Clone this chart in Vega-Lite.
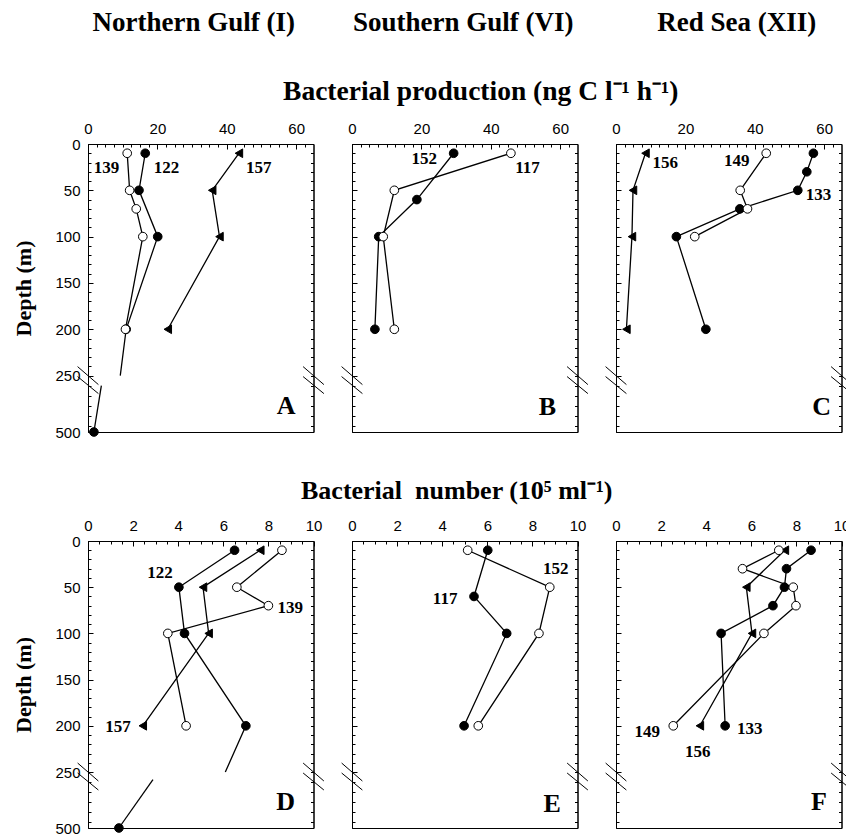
{
  "$schema": "https://vega.github.io/schema/vega-lite/v6.json",
  "background": "white",
  "padding": {"left": 12, "top": 8, "right": 0, "bottom": 0},
  "config": {
    "view": {"stroke": "black", "strokeWidth": 1},
    "axis": {"grid": false, "labelFont": "Liberation Sans", "labelFontSize": 15, "labelColor": "black", "tickColor": "black", "domainColor": "black", "tickWidth": 1, "domainWidth": 1, "labelFlush": false, "labelOverlap": false, "labelBound": false},
    "title": {"font": "Liberation Serif", "fontWeight": "bold", "fontSize": 26, "color": "black", "anchor": "middle", "frame": "group", "offset": 14},
    "text": {"font": "Liberation Serif", "fontWeight": "bold", "color": "black"}
  },
  "datasets": {
    "profiles": [
      {"panel":"A","station":"157","seg":1,"depth":10,"value":43.5,"kind":"sample"},
      {"panel":"A","station":"157","seg":1,"depth":50,"value":35.8,"kind":"sample"},
      {"panel":"A","station":"157","seg":1,"depth":100,"value":37.9,"kind":"sample"},
      {"panel":"A","station":"157","seg":1,"depth":200,"value":23.0,"kind":"sample"},
      {"panel":"A","station":"122","seg":1,"depth":10,"value":16.5,"kind":"sample"},
      {"panel":"A","station":"122","seg":1,"depth":50,"value":14.7,"kind":"sample"},
      {"panel":"A","station":"122","seg":1,"depth":100,"value":20.1,"kind":"sample"},
      {"panel":"A","station":"122","seg":1,"depth":200,"value":11.0,"kind":"sample"},
      {"panel":"A","station":"122","seg":1,"depth":250,"value":9.3,"kind":"break"},
      {"panel":"A","station":"122","seg":2,"depth":294,"value":3.85,"kind":"break"},
      {"panel":"A","station":"122","seg":2,"depth":500,"value":1.7,"kind":"sample"},
      {"panel":"A","station":"139","seg":1,"depth":10,"value":11.3,"kind":"sample"},
      {"panel":"A","station":"139","seg":1,"depth":50,"value":12.0,"kind":"sample"},
      {"panel":"A","station":"139","seg":1,"depth":70,"value":13.9,"kind":"sample"},
      {"panel":"A","station":"139","seg":1,"depth":100,"value":15.8,"kind":"sample"},
      {"panel":"A","station":"139","seg":1,"depth":200,"value":10.8,"kind":"sample"},
      {"panel":"B","station":"152","seg":1,"depth":10,"value":29.3,"kind":"sample"},
      {"panel":"B","station":"152","seg":1,"depth":60,"value":18.7,"kind":"sample"},
      {"panel":"B","station":"152","seg":1,"depth":100,"value":7.7,"kind":"sample"},
      {"panel":"B","station":"152","seg":1,"depth":200,"value":6.6,"kind":"sample"},
      {"panel":"B","station":"117","seg":1,"depth":10,"value":45.8,"kind":"sample"},
      {"panel":"B","station":"117","seg":1,"depth":50,"value":12.2,"kind":"sample"},
      {"panel":"B","station":"117","seg":1,"depth":100,"value":9.0,"kind":"sample"},
      {"panel":"B","station":"117","seg":1,"depth":200,"value":12.2,"kind":"sample"},
      {"panel":"C","station":"156","seg":1,"depth":10,"value":8.5,"kind":"sample"},
      {"panel":"C","station":"156","seg":1,"depth":50,"value":4.9,"kind":"sample"},
      {"panel":"C","station":"156","seg":1,"depth":100,"value":4.6,"kind":"sample"},
      {"panel":"C","station":"156","seg":1,"depth":200,"value":3.0,"kind":"sample"},
      {"panel":"C","station":"133","seg":1,"depth":10,"value":56.9,"kind":"sample"},
      {"panel":"C","station":"133","seg":1,"depth":30,"value":55.0,"kind":"sample"},
      {"panel":"C","station":"133","seg":1,"depth":50,"value":52.4,"kind":"sample"},
      {"panel":"C","station":"133","seg":1,"depth":70,"value":35.7,"kind":"sample"},
      {"panel":"C","station":"133","seg":1,"depth":100,"value":17.4,"kind":"sample"},
      {"panel":"C","station":"133","seg":1,"depth":200,"value":25.9,"kind":"sample"},
      {"panel":"C","station":"149","seg":1,"depth":10,"value":43.3,"kind":"sample"},
      {"panel":"C","station":"149","seg":1,"depth":50,"value":35.8,"kind":"sample"},
      {"panel":"C","station":"149","seg":1,"depth":70,"value":37.9,"kind":"sample"},
      {"panel":"C","station":"149","seg":1,"depth":100,"value":22.7,"kind":"sample"},
      {"panel":"D","station":"157","seg":1,"depth":10,"value":7.64,"kind":"sample"},
      {"panel":"D","station":"157","seg":1,"depth":50,"value":5.1,"kind":"sample"},
      {"panel":"D","station":"157","seg":1,"depth":100,"value":5.35,"kind":"sample"},
      {"panel":"D","station":"157","seg":1,"depth":200,"value":2.43,"kind":"sample"},
      {"panel":"D","station":"122","seg":1,"depth":10,"value":6.5,"kind":"sample"},
      {"panel":"D","station":"122","seg":1,"depth":50,"value":4.03,"kind":"sample"},
      {"panel":"D","station":"122","seg":1,"depth":100,"value":4.28,"kind":"sample"},
      {"panel":"D","station":"122","seg":1,"depth":200,"value":7.0,"kind":"sample"},
      {"panel":"D","station":"122","seg":1,"depth":250,"value":6.09,"kind":"break"},
      {"panel":"D","station":"122","seg":2,"depth":284,"value":2.88,"kind":"break"},
      {"panel":"D","station":"122","seg":2,"depth":500,"value":1.37,"kind":"sample"},
      {"panel":"D","station":"139","seg":1,"depth":10,"value":8.6,"kind":"sample"},
      {"panel":"D","station":"139","seg":1,"depth":50,"value":6.6,"kind":"sample"},
      {"panel":"D","station":"139","seg":1,"depth":70,"value":8.0,"kind":"sample"},
      {"panel":"D","station":"139","seg":1,"depth":100,"value":3.54,"kind":"sample"},
      {"panel":"D","station":"139","seg":1,"depth":200,"value":4.35,"kind":"sample"},
      {"panel":"E","station":"117","seg":1,"depth":10,"value":6.02,"kind":"sample"},
      {"panel":"E","station":"117","seg":1,"depth":60,"value":5.41,"kind":"sample"},
      {"panel":"E","station":"117","seg":1,"depth":100,"value":6.86,"kind":"sample"},
      {"panel":"E","station":"117","seg":1,"depth":200,"value":4.97,"kind":"sample"},
      {"panel":"E","station":"152","seg":1,"depth":10,"value":5.13,"kind":"sample"},
      {"panel":"E","station":"152","seg":1,"depth":50,"value":8.77,"kind":"sample"},
      {"panel":"E","station":"152","seg":1,"depth":100,"value":8.29,"kind":"sample"},
      {"panel":"E","station":"152","seg":1,"depth":200,"value":5.6,"kind":"sample"},
      {"panel":"F","station":"156","seg":1,"depth":10,"value":7.49,"kind":"sample"},
      {"panel":"F","station":"156","seg":1,"depth":50,"value":5.78,"kind":"sample"},
      {"panel":"F","station":"156","seg":1,"depth":100,"value":6.03,"kind":"sample"},
      {"panel":"F","station":"156","seg":1,"depth":200,"value":3.72,"kind":"sample"},
      {"panel":"F","station":"133","seg":1,"depth":10,"value":8.65,"kind":"sample"},
      {"panel":"F","station":"133","seg":1,"depth":30,"value":7.56,"kind":"sample"},
      {"panel":"F","station":"133","seg":1,"depth":50,"value":7.47,"kind":"sample"},
      {"panel":"F","station":"133","seg":1,"depth":70,"value":6.96,"kind":"sample"},
      {"panel":"F","station":"133","seg":1,"depth":100,"value":4.66,"kind":"sample"},
      {"panel":"F","station":"133","seg":1,"depth":200,"value":4.84,"kind":"sample"},
      {"panel":"F","station":"149","seg":1,"depth":10,"value":7.22,"kind":"sample"},
      {"panel":"F","station":"149","seg":1,"depth":30,"value":5.61,"kind":"sample"},
      {"panel":"F","station":"149","seg":1,"depth":50,"value":7.86,"kind":"sample"},
      {"panel":"F","station":"149","seg":1,"depth":70,"value":7.98,"kind":"sample"},
      {"panel":"F","station":"149","seg":1,"depth":100,"value":6.56,"kind":"sample"},
      {"panel":"F","station":"149","seg":1,"depth":200,"value":2.54,"kind":"sample"}
    ],
    "labels": [
      {"panel":"A","station":"139","depth":25.6,"value":5.3},
      {"panel":"A","station":"122","depth":25.6,"value":22.6},
      {"panel":"A","station":"157","depth":25.6,"value":49.2},
      {"panel":"B","station":"152","depth":16.7,"value":20.8},
      {"panel":"B","station":"117","depth":25.6,"value":50.6},
      {"panel":"C","station":"156","depth":20,"value":14.2},
      {"panel":"C","station":"149","depth":18.5,"value":34.8},
      {"panel":"C","station":"133","depth":55,"value":58.4},
      {"panel":"D","station":"122","depth":34.8,"value":3.19},
      {"panel":"D","station":"139","depth":72,"value":8.97},
      {"panel":"D","station":"157","depth":200.9,"value":1.33},
      {"panel":"E","station":"152","depth":29.9,"value":9.04},
      {"panel":"E","station":"117","depth":63,"value":4.13},
      {"panel":"F","station":"149","depth":206.7,"value":1.39},
      {"panel":"F","station":"156","depth":228.8,"value":3.62},
      {"panel":"F","station":"133","depth":204,"value":5.93}
    ]
  },
  "spacing": 36,
  "resolve": {"scale": {"shape": "independent", "fill": "independent"}},
  "vconcat": [
    {
      "spacing": 38,
      "bounds": "flush",
      "title": {"text": "Bacterial production (ng C l⁻¹ h⁻¹)", "fontSize": 27.5, "frame": "bounds", "anchor": "middle", "offset": -97, "dx": 48},
      "resolve": {"scale": {"shape": "independent", "fill": "independent"}},
      "hconcat": [
        {
          "width": 225.5, "height": 288,
          "title": {"text": "Northern Gulf (I)", "fontSize": 27, "dx": -7, "offset": 84},
          "layer": [
            {"data": {"name": "profiles"}, "transform": [{"filter": "datum.panel === 'A'"}],
             "mark": {"type": "line", "color": "black", "strokeWidth": 1.3},
             "encoding": {
               "x": {"field": "value", "type": "quantitative", "scale": {"domain": [0,65], "nice": false, "zero": false}, "axis": {"orient": "top", "values": [0,20,40,60], "tickSize": -5, "labelPadding": 13, "title": null, "format": "d"}},
               "y": {"field": "depth", "type": "quantitative", "scale": {"domain": [0,250,500], "range": [0,231.6,288], "nice": false, "zero": false}, "axis": {"orient": "left", "values": [0,50,100,150,200,250,500], "tickSize": -5, "labelPadding": 13, "format": "d", "title": "Depth (m)", "titleFont": "Liberation Serif", "titleFontWeight": "bold", "titleFontSize": 22, "titlePadding": 19, "titleColor": "black"}},
               "detail": [{"field": "station", "type": "nominal"}, {"field": "seg", "type": "nominal"}],
               "order": {"field": "depth", "type": "quantitative"}
             }},
            {"data": {"name": "profiles"}, "transform": [{"filter": "datum.panel === 'A' && datum.kind === 'sample'"}],
             "mark": {"type": "point", "filled": true, "size": 75, "stroke": "black", "strokeWidth": 1, "opacity": 1},
             "encoding": {
               "x": {"field": "value", "type": "quantitative", "scale": {"domain": [0,65], "nice": false, "zero": false}, "axis": {"orient": "top", "values": [2.5,5,7.5,10,12.5,15,17.5,22.5,25,27.5,30,32.5,35,37.5,42.5,45,47.5,50,52.5,55,57.5,62.5], "tickSize": -3, "labels": false, "domain": false, "title": null}},
               "y": {"field": "depth", "type": "quantitative", "scale": {"domain": [0,250,500], "range": [0,231.6,288], "nice": false, "zero": false}, "axis": {"orient": "left", "values": [10,20,30,40,60,70,80,90,110,120,130,140,160,170,180,190,210,220,230,240,295,340,385,430,475], "tickSize": -3, "labels": false, "domain": false, "title": null}},
               "shape": {"field": "station", "type": "nominal", "scale": {"domain": ["122","139","157"], "range": ["circle","circle","triangle-left"]}, "legend": null},
               "fill": {"field": "station", "type": "nominal", "scale": {"domain": ["122","139","157"], "range": ["black","white","black"]}, "legend": null}
             }},
            {"data": {"name": "labels"}, "transform": [{"filter": "datum.panel === 'A'"}],
             "mark": {"type": "text", "font": "Liberation Serif", "fontWeight": "bold", "fontSize": 17, "align": "center", "baseline": "middle"},
             "encoding": {
               "x": {"field": "value", "type": "quantitative", "scale": {"domain": [0,65], "nice": false, "zero": false}, "axis": null},
               "y": {"field": "depth", "type": "quantitative", "scale": {"domain": [0,250,500], "range": [0,231.6,288], "nice": false, "zero": false}, "axis": {"orient": "right", "values": [10,20,30,40,50,60,70,80,90,100,110,120,130,140,150,160,170,180,190,200,210,220,230,240,250,295,340,385,430,475], "tickSize": -3, "labels": false, "domain": true, "title": null}},
               "text": {"field": "station", "type": "nominal"}
             }},
            {"data": {"values": [{}]}, "mark": {"type": "text", "text": "A", "font": "Liberation Serif", "fontWeight": "bold", "fontSize": 26, "align": "center", "baseline": "middle"},
             "encoding": {"x": {"datum": 57.1, "type": "quantitative", "axis": null}, "y": {"datum": 385, "type": "quantitative", "axis": null}}},
            {"data": {"values": [{}]}, "mark": {"type": "rule", "color": "black", "strokeWidth": 1},
             "encoding": {"x": {"datum": -3, "type": "quantitative", "axis": null}, "x2": {"datum": 3}, "y": {"datum": 240.3, "type": "quantitative", "axis": null}, "y2": {"datum": 289.9}}},
            {"data": {"values": [{}]}, "mark": {"type": "rule", "color": "black", "strokeWidth": 1},
             "encoding": {"x": {"datum": -3, "type": "quantitative", "axis": null}, "x2": {"datum": 3}, "y": {"datum": 254.4, "type": "quantitative", "axis": null}, "y2": {"datum": 329.8}}},
            {"data": {"values": [{}]}, "mark": {"type": "rule", "color": "black", "strokeWidth": 1},
             "encoding": {"x": {"datum": 62, "type": "quantitative", "axis": null}, "x2": {"datum": 68}, "y": {"datum": 240.3, "type": "quantitative", "axis": null}, "y2": {"datum": 289.9}}},
            {"data": {"values": [{}]}, "mark": {"type": "rule", "color": "black", "strokeWidth": 1},
             "encoding": {"x": {"datum": 62, "type": "quantitative", "axis": null}, "x2": {"datum": 68}, "y": {"datum": 254.4, "type": "quantitative", "axis": null}, "y2": {"datum": 329.8}}}
          ],
          "resolve": {"axis": {"x": "independent", "y": "independent"}}
        },
        {
          "width": 225.5, "height": 288,
          "title": {"text": "Southern Gulf (VI)", "fontSize": 27, "dx": -1.5, "offset": 84},
          "layer": [
            {"data": {"name": "profiles"}, "transform": [{"filter": "datum.panel === 'B'"}],
             "mark": {"type": "line", "color": "black", "strokeWidth": 1.3},
             "encoding": {
               "x": {"field": "value", "type": "quantitative", "scale": {"domain": [0,65], "nice": false, "zero": false}, "axis": {"orient": "top", "values": [0,20,40,60], "tickSize": -5, "labelPadding": 13, "title": null, "format": "d"}},
               "y": {"field": "depth", "type": "quantitative", "scale": {"domain": [0,250,500], "range": [0,231.6,288], "nice": false, "zero": false}, "axis": {"orient": "left", "values": [0,50,100,150,200,250,500], "tickSize": -5, "labels": false, "title": null}},
               "detail": [{"field": "station", "type": "nominal"}, {"field": "seg", "type": "nominal"}],
               "order": {"field": "depth", "type": "quantitative"}
             }},
            {"data": {"name": "profiles"}, "transform": [{"filter": "datum.panel === 'B' && datum.kind === 'sample'"}],
             "mark": {"type": "point", "filled": true, "size": 75, "stroke": "black", "strokeWidth": 1, "opacity": 1},
             "encoding": {
               "x": {"field": "value", "type": "quantitative", "scale": {"domain": [0,65], "nice": false, "zero": false}, "axis": {"orient": "top", "values": [2.5,5,7.5,10,12.5,15,17.5,22.5,25,27.5,30,32.5,35,37.5,42.5,45,47.5,50,52.5,55,57.5,62.5], "tickSize": -3, "labels": false, "domain": false, "title": null}},
               "y": {"field": "depth", "type": "quantitative", "scale": {"domain": [0,250,500], "range": [0,231.6,288], "nice": false, "zero": false}, "axis": {"orient": "left", "values": [10,20,30,40,60,70,80,90,110,120,130,140,160,170,180,190,210,220,230,240,295,340,385,430,475], "tickSize": -3, "labels": false, "domain": false, "title": null}},
               "shape": {"field": "station", "type": "nominal", "scale": {"domain": ["152","117"], "range": ["circle","circle"]}, "legend": null},
               "fill": {"field": "station", "type": "nominal", "scale": {"domain": ["152","117"], "range": ["black","white"]}, "legend": null}
             }},
            {"data": {"name": "labels"}, "transform": [{"filter": "datum.panel === 'B'"}],
             "mark": {"type": "text", "font": "Liberation Serif", "fontWeight": "bold", "fontSize": 17, "align": "center", "baseline": "middle"},
             "encoding": {
               "x": {"field": "value", "type": "quantitative", "scale": {"domain": [0,65], "nice": false, "zero": false}, "axis": null},
               "y": {"field": "depth", "type": "quantitative", "scale": {"domain": [0,250,500], "range": [0,231.6,288], "nice": false, "zero": false}, "axis": {"orient": "right", "values": [10,20,30,40,50,60,70,80,90,100,110,120,130,140,150,160,170,180,190,200,210,220,230,240,250,295,340,385,430,475], "tickSize": -3, "labels": false, "domain": true, "title": null}},
               "text": {"field": "station", "type": "nominal"}
             }},
            {"data": {"values": [{}]}, "mark": {"type": "text", "text": "B", "font": "Liberation Serif", "fontWeight": "bold", "fontSize": 26, "align": "center", "baseline": "middle"},
             "encoding": {"x": {"datum": 56.3, "type": "quantitative", "axis": null}, "y": {"datum": 388, "type": "quantitative", "axis": null}}},
            {"data": {"values": [{}]}, "mark": {"type": "rule", "color": "black", "strokeWidth": 1},
             "encoding": {"x": {"datum": -3, "type": "quantitative", "axis": null}, "x2": {"datum": 3}, "y": {"datum": 240.3, "type": "quantitative", "axis": null}, "y2": {"datum": 289.9}}},
            {"data": {"values": [{}]}, "mark": {"type": "rule", "color": "black", "strokeWidth": 1},
             "encoding": {"x": {"datum": -3, "type": "quantitative", "axis": null}, "x2": {"datum": 3}, "y": {"datum": 254.4, "type": "quantitative", "axis": null}, "y2": {"datum": 329.8}}},
            {"data": {"values": [{}]}, "mark": {"type": "rule", "color": "black", "strokeWidth": 1},
             "encoding": {"x": {"datum": 62, "type": "quantitative", "axis": null}, "x2": {"datum": 68}, "y": {"datum": 240.3, "type": "quantitative", "axis": null}, "y2": {"datum": 289.9}}},
            {"data": {"values": [{}]}, "mark": {"type": "rule", "color": "black", "strokeWidth": 1},
             "encoding": {"x": {"datum": 62, "type": "quantitative", "axis": null}, "x2": {"datum": 68}, "y": {"datum": 254.4, "type": "quantitative", "axis": null}, "y2": {"datum": 329.8}}}
          ],
          "resolve": {"axis": {"x": "independent", "y": "independent"}}
        },
        {
          "width": 225.5, "height": 288,
          "title": {"text": "Red Sea (XII)", "fontSize": 27, "dx": 8, "offset": 84},
          "layer": [
            {"data": {"name": "profiles"}, "transform": [{"filter": "datum.panel === 'C'"}],
             "mark": {"type": "line", "color": "black", "strokeWidth": 1.3},
             "encoding": {
               "x": {"field": "value", "type": "quantitative", "scale": {"domain": [0,65], "nice": false, "zero": false}, "axis": {"orient": "top", "values": [0,20,40,60], "tickSize": -5, "labelPadding": 13, "title": null, "format": "d"}},
               "y": {"field": "depth", "type": "quantitative", "scale": {"domain": [0,250,500], "range": [0,231.6,288], "nice": false, "zero": false}, "axis": {"orient": "left", "values": [0,50,100,150,200,250,500], "tickSize": -5, "labels": false, "title": null}},
               "detail": [{"field": "station", "type": "nominal"}, {"field": "seg", "type": "nominal"}],
               "order": {"field": "depth", "type": "quantitative"}
             }},
            {"data": {"name": "profiles"}, "transform": [{"filter": "datum.panel === 'C' && datum.kind === 'sample'"}],
             "mark": {"type": "point", "filled": true, "size": 75, "stroke": "black", "strokeWidth": 1, "opacity": 1},
             "encoding": {
               "x": {"field": "value", "type": "quantitative", "scale": {"domain": [0,65], "nice": false, "zero": false}, "axis": {"orient": "top", "values": [2.5,5,7.5,10,12.5,15,17.5,22.5,25,27.5,30,32.5,35,37.5,42.5,45,47.5,50,52.5,55,57.5,62.5], "tickSize": -3, "labels": false, "domain": false, "title": null}},
               "y": {"field": "depth", "type": "quantitative", "scale": {"domain": [0,250,500], "range": [0,231.6,288], "nice": false, "zero": false}, "axis": {"orient": "left", "values": [10,20,30,40,60,70,80,90,110,120,130,140,160,170,180,190,210,220,230,240,295,340,385,430,475], "tickSize": -3, "labels": false, "domain": false, "title": null}},
               "shape": {"field": "station", "type": "nominal", "scale": {"domain": ["133","149","156"], "range": ["circle","circle","triangle-left"]}, "legend": null},
               "fill": {"field": "station", "type": "nominal", "scale": {"domain": ["133","149","156"], "range": ["black","white","black"]}, "legend": null}
             }},
            {"data": {"name": "labels"}, "transform": [{"filter": "datum.panel === 'C'"}],
             "mark": {"type": "text", "font": "Liberation Serif", "fontWeight": "bold", "fontSize": 17, "align": "center", "baseline": "middle"},
             "encoding": {
               "x": {"field": "value", "type": "quantitative", "scale": {"domain": [0,65], "nice": false, "zero": false}, "axis": null},
               "y": {"field": "depth", "type": "quantitative", "scale": {"domain": [0,250,500], "range": [0,231.6,288], "nice": false, "zero": false}, "axis": {"orient": "right", "values": [10,20,30,40,50,60,70,80,90,100,110,120,130,140,150,160,170,180,190,200,210,220,230,240,250,295,340,385,430,475], "tickSize": -3, "labels": false, "domain": true, "title": null}},
               "text": {"field": "station", "type": "nominal"}
             }},
            {"data": {"values": [{}]}, "mark": {"type": "text", "text": "C", "font": "Liberation Serif", "fontWeight": "bold", "fontSize": 26, "align": "center", "baseline": "middle"},
             "encoding": {"x": {"datum": 59.3, "type": "quantitative", "axis": null}, "y": {"datum": 388, "type": "quantitative", "axis": null}}},
            {"data": {"values": [{}]}, "mark": {"type": "rule", "color": "black", "strokeWidth": 1},
             "encoding": {"x": {"datum": -3, "type": "quantitative", "axis": null}, "x2": {"datum": 3}, "y": {"datum": 240.3, "type": "quantitative", "axis": null}, "y2": {"datum": 289.9}}},
            {"data": {"values": [{}]}, "mark": {"type": "rule", "color": "black", "strokeWidth": 1},
             "encoding": {"x": {"datum": -3, "type": "quantitative", "axis": null}, "x2": {"datum": 3}, "y": {"datum": 254.4, "type": "quantitative", "axis": null}, "y2": {"datum": 329.8}}},
            {"data": {"values": [{}]}, "mark": {"type": "rule", "color": "black", "strokeWidth": 1},
             "encoding": {"x": {"datum": 62, "type": "quantitative", "axis": null}, "x2": {"datum": 68}, "y": {"datum": 240.3, "type": "quantitative", "axis": null}, "y2": {"datum": 289.9}}},
            {"data": {"values": [{}]}, "mark": {"type": "rule", "color": "black", "strokeWidth": 1},
             "encoding": {"x": {"datum": 62, "type": "quantitative", "axis": null}, "x2": {"datum": 68}, "y": {"datum": 254.4, "type": "quantitative", "axis": null}, "y2": {"datum": 329.8}}}
          ],
          "resolve": {"axis": {"x": "independent", "y": "independent"}}
        }
      ]
    },
    {
      "spacing": 38,
      "bounds": "flush",
      "resolve": {"scale": {"shape": "independent", "fill": "independent"}},
      "hconcat": [
        {
          "width": 225.5, "height": 287,
          "layer": [
            {"data": {"name": "profiles"}, "transform": [{"filter": "datum.panel === 'D'"}],
             "mark": {"type": "line", "color": "black", "strokeWidth": 1.3},
             "encoding": {
               "x": {"field": "value", "type": "quantitative", "scale": {"domain": [0,10], "nice": false, "zero": false}, "axis": {"orient": "top", "values": [0,2,4,6,8,10], "tickSize": -5, "labelPadding": 13, "title": null, "format": "d"}},
               "y": {"field": "depth", "type": "quantitative", "scale": {"domain": [0,250,500], "range": [0,231,287], "nice": false, "zero": false}, "axis": {"orient": "left", "values": [0,50,100,150,200,250,500], "tickSize": -5, "labelPadding": 13, "format": "d", "title": "Depth (m)", "titleFont": "Liberation Serif", "titleFontWeight": "bold", "titleFontSize": 22, "titlePadding": 19, "titleColor": "black"}},
               "detail": [{"field": "station", "type": "nominal"}, {"field": "seg", "type": "nominal"}],
               "order": {"field": "depth", "type": "quantitative"}
             }},
            {"data": {"name": "profiles"}, "transform": [{"filter": "datum.panel === 'D' && datum.kind === 'sample'"}],
             "mark": {"type": "point", "filled": true, "size": 75, "stroke": "black", "strokeWidth": 1, "opacity": 1},
             "encoding": {
               "x": {"field": "value", "type": "quantitative", "scale": {"domain": [0,10], "nice": false, "zero": false}, "axis": {"orient": "top", "values": [0.5,1,1.5,2.5,3,3.5,4.5,5,5.5,6.5,7,7.5,8.5,9,9.5], "tickSize": -3, "labels": false, "domain": false, "title": null}},
               "y": {"field": "depth", "type": "quantitative", "scale": {"domain": [0,250,500], "range": [0,231,287], "nice": false, "zero": false}, "axis": {"orient": "left", "values": [10,20,30,40,60,70,80,90,110,120,130,140,160,170,180,190,210,220,230,240,295,340,385,430,475], "tickSize": -3, "labels": false, "domain": false, "title": null}},
               "shape": {"field": "station", "type": "nominal", "scale": {"domain": ["122","139","157"], "range": ["circle","circle","triangle-left"]}, "legend": null},
               "fill": {"field": "station", "type": "nominal", "scale": {"domain": ["122","139","157"], "range": ["black","white","black"]}, "legend": null}
             }},
            {"data": {"name": "labels"}, "transform": [{"filter": "datum.panel === 'D'"}],
             "mark": {"type": "text", "font": "Liberation Serif", "fontWeight": "bold", "fontSize": 17, "align": "center", "baseline": "middle"},
             "encoding": {
               "x": {"field": "value", "type": "quantitative", "scale": {"domain": [0,10], "nice": false, "zero": false}, "axis": null},
               "y": {"field": "depth", "type": "quantitative", "scale": {"domain": [0,250,500], "range": [0,231,287], "nice": false, "zero": false}, "axis": {"orient": "right", "values": [10,20,30,40,50,60,70,80,90,100,110,120,130,140,150,160,170,180,190,200,210,220,230,240,250,295,340,385,430,475], "tickSize": -3, "labels": false, "domain": true, "title": null}},
               "text": {"field": "station", "type": "nominal"}
             }},
            {"data": {"values": [{}]}, "mark": {"type": "text", "text": "D", "font": "Liberation Serif", "fontWeight": "bold", "fontSize": 26, "align": "center", "baseline": "middle"},
             "encoding": {"x": {"datum": 8.77, "type": "quantitative", "axis": null}, "y": {"datum": 385, "type": "quantitative", "axis": null}}},
            {"data": {"values": [{}]}, "mark": {"type": "rule", "color": "black", "strokeWidth": 1},
             "encoding": {"x": {"datum": -0.46, "type": "quantitative", "axis": null}, "x2": {"datum": 0.46}, "y": {"datum": 240.3, "type": "quantitative", "axis": null}, "y2": {"datum": 290.2}}},
            {"data": {"values": [{}]}, "mark": {"type": "rule", "color": "black", "strokeWidth": 1},
             "encoding": {"x": {"datum": -0.46, "type": "quantitative", "axis": null}, "x2": {"datum": 0.46}, "y": {"datum": 254.5, "type": "quantitative", "axis": null}, "y2": {"datum": 330.4}}},
            {"data": {"values": [{}]}, "mark": {"type": "rule", "color": "black", "strokeWidth": 1},
             "encoding": {"x": {"datum": 9.54, "type": "quantitative", "axis": null}, "x2": {"datum": 10.46}, "y": {"datum": 240.3, "type": "quantitative", "axis": null}, "y2": {"datum": 290.2}}},
            {"data": {"values": [{}]}, "mark": {"type": "rule", "color": "black", "strokeWidth": 1},
             "encoding": {"x": {"datum": 9.54, "type": "quantitative", "axis": null}, "x2": {"datum": 10.46}, "y": {"datum": 254.5, "type": "quantitative", "axis": null}, "y2": {"datum": 330.4}}}
          ],
          "resolve": {"axis": {"x": "independent", "y": "independent"}}
        },
        {
          "width": 225.5, "height": 287,
          "title": {"text": "Bacterial\u00a0 number (10⁵ ml⁻¹)", "dx": -8},
          "layer": [
            {"data": {"name": "profiles"}, "transform": [{"filter": "datum.panel === 'E'"}],
             "mark": {"type": "line", "color": "black", "strokeWidth": 1.3},
             "encoding": {
               "x": {"field": "value", "type": "quantitative", "scale": {"domain": [0,10], "nice": false, "zero": false}, "axis": {"orient": "top", "values": [0,2,4,6,8,10], "tickSize": -5, "labelPadding": 13, "title": null, "format": "d"}},
               "y": {"field": "depth", "type": "quantitative", "scale": {"domain": [0,250,500], "range": [0,231,287], "nice": false, "zero": false}, "axis": {"orient": "left", "values": [0,50,100,150,200,250,500], "tickSize": -5, "labels": false, "title": null}},
               "detail": [{"field": "station", "type": "nominal"}, {"field": "seg", "type": "nominal"}],
               "order": {"field": "depth", "type": "quantitative"}
             }},
            {"data": {"name": "profiles"}, "transform": [{"filter": "datum.panel === 'E' && datum.kind === 'sample'"}],
             "mark": {"type": "point", "filled": true, "size": 75, "stroke": "black", "strokeWidth": 1, "opacity": 1},
             "encoding": {
               "x": {"field": "value", "type": "quantitative", "scale": {"domain": [0,10], "nice": false, "zero": false}, "axis": {"orient": "top", "values": [0.5,1,1.5,2.5,3,3.5,4.5,5,5.5,6.5,7,7.5,8.5,9,9.5], "tickSize": -3, "labels": false, "domain": false, "title": null}},
               "y": {"field": "depth", "type": "quantitative", "scale": {"domain": [0,250,500], "range": [0,231,287], "nice": false, "zero": false}, "axis": {"orient": "left", "values": [10,20,30,40,60,70,80,90,110,120,130,140,160,170,180,190,210,220,230,240,295,340,385,430,475], "tickSize": -3, "labels": false, "domain": false, "title": null}},
               "shape": {"field": "station", "type": "nominal", "scale": {"domain": ["117","152"], "range": ["circle","circle"]}, "legend": null},
               "fill": {"field": "station", "type": "nominal", "scale": {"domain": ["117","152"], "range": ["black","white"]}, "legend": null}
             }},
            {"data": {"name": "labels"}, "transform": [{"filter": "datum.panel === 'E'"}],
             "mark": {"type": "text", "font": "Liberation Serif", "fontWeight": "bold", "fontSize": 17, "align": "center", "baseline": "middle"},
             "encoding": {
               "x": {"field": "value", "type": "quantitative", "scale": {"domain": [0,10], "nice": false, "zero": false}, "axis": null},
               "y": {"field": "depth", "type": "quantitative", "scale": {"domain": [0,250,500], "range": [0,231,287], "nice": false, "zero": false}, "axis": {"orient": "right", "values": [10,20,30,40,50,60,70,80,90,100,110,120,130,140,150,160,170,180,190,200,210,220,230,240,250,295,340,385,430,475], "tickSize": -3, "labels": false, "domain": true, "title": null}},
               "text": {"field": "station", "type": "nominal"}
             }},
            {"data": {"values": [{}]}, "mark": {"type": "text", "text": "E", "font": "Liberation Serif", "fontWeight": "bold", "fontSize": 26, "align": "center", "baseline": "middle"},
             "encoding": {"x": {"datum": 8.88, "type": "quantitative", "axis": null}, "y": {"datum": 395, "type": "quantitative", "axis": null}}},
            {"data": {"values": [{}]}, "mark": {"type": "rule", "color": "black", "strokeWidth": 1},
             "encoding": {"x": {"datum": -0.46, "type": "quantitative", "axis": null}, "x2": {"datum": 0.46}, "y": {"datum": 240.3, "type": "quantitative", "axis": null}, "y2": {"datum": 290.2}}},
            {"data": {"values": [{}]}, "mark": {"type": "rule", "color": "black", "strokeWidth": 1},
             "encoding": {"x": {"datum": -0.46, "type": "quantitative", "axis": null}, "x2": {"datum": 0.46}, "y": {"datum": 254.5, "type": "quantitative", "axis": null}, "y2": {"datum": 330.4}}},
            {"data": {"values": [{}]}, "mark": {"type": "rule", "color": "black", "strokeWidth": 1},
             "encoding": {"x": {"datum": 9.54, "type": "quantitative", "axis": null}, "x2": {"datum": 10.46}, "y": {"datum": 240.3, "type": "quantitative", "axis": null}, "y2": {"datum": 290.2}}},
            {"data": {"values": [{}]}, "mark": {"type": "rule", "color": "black", "strokeWidth": 1},
             "encoding": {"x": {"datum": 9.54, "type": "quantitative", "axis": null}, "x2": {"datum": 10.46}, "y": {"datum": 254.5, "type": "quantitative", "axis": null}, "y2": {"datum": 330.4}}}
          ],
          "resolve": {"axis": {"x": "independent", "y": "independent"}}
        },
        {
          "width": 225.5, "height": 287,
          "layer": [
            {"data": {"name": "profiles"}, "transform": [{"filter": "datum.panel === 'F'"}],
             "mark": {"type": "line", "color": "black", "strokeWidth": 1.3},
             "encoding": {
               "x": {"field": "value", "type": "quantitative", "scale": {"domain": [0,10], "nice": false, "zero": false}, "axis": {"orient": "top", "values": [0,2,4,6,8,10], "tickSize": -5, "labelPadding": 13, "title": null, "format": "d"}},
               "y": {"field": "depth", "type": "quantitative", "scale": {"domain": [0,250,500], "range": [0,231,287], "nice": false, "zero": false}, "axis": {"orient": "left", "values": [0,50,100,150,200,250,500], "tickSize": -5, "labels": false, "title": null}},
               "detail": [{"field": "station", "type": "nominal"}, {"field": "seg", "type": "nominal"}],
               "order": {"field": "depth", "type": "quantitative"}
             }},
            {"data": {"name": "profiles"}, "transform": [{"filter": "datum.panel === 'F' && datum.kind === 'sample'"}],
             "mark": {"type": "point", "filled": true, "size": 75, "stroke": "black", "strokeWidth": 1, "opacity": 1},
             "encoding": {
               "x": {"field": "value", "type": "quantitative", "scale": {"domain": [0,10], "nice": false, "zero": false}, "axis": {"orient": "top", "values": [0.5,1,1.5,2.5,3,3.5,4.5,5,5.5,6.5,7,7.5,8.5,9,9.5], "tickSize": -3, "labels": false, "domain": false, "title": null}},
               "y": {"field": "depth", "type": "quantitative", "scale": {"domain": [0,250,500], "range": [0,231,287], "nice": false, "zero": false}, "axis": {"orient": "left", "values": [10,20,30,40,60,70,80,90,110,120,130,140,160,170,180,190,210,220,230,240,295,340,385,430,475], "tickSize": -3, "labels": false, "domain": false, "title": null}},
               "shape": {"field": "station", "type": "nominal", "scale": {"domain": ["133","149","156"], "range": ["circle","circle","triangle-left"]}, "legend": null},
               "fill": {"field": "station", "type": "nominal", "scale": {"domain": ["133","149","156"], "range": ["black","white","black"]}, "legend": null}
             }},
            {"data": {"name": "labels"}, "transform": [{"filter": "datum.panel === 'F'"}],
             "mark": {"type": "text", "font": "Liberation Serif", "fontWeight": "bold", "fontSize": 17, "align": "center", "baseline": "middle"},
             "encoding": {
               "x": {"field": "value", "type": "quantitative", "scale": {"domain": [0,10], "nice": false, "zero": false}, "axis": null},
               "y": {"field": "depth", "type": "quantitative", "scale": {"domain": [0,250,500], "range": [0,231,287], "nice": false, "zero": false}, "axis": {"orient": "right", "values": [10,20,30,40,50,60,70,80,90,100,110,120,130,140,150,160,170,180,190,200,210,220,230,240,250,295,340,385,430,475], "tickSize": -3, "labels": false, "domain": true, "title": null}},
               "text": {"field": "station", "type": "nominal"}
             }},
            {"data": {"values": [{}]}, "mark": {"type": "text", "text": "F", "font": "Liberation Serif", "fontWeight": "bold", "fontSize": 26, "align": "center", "baseline": "middle"},
             "encoding": {"x": {"datum": 9.0, "type": "quantitative", "axis": null}, "y": {"datum": 385, "type": "quantitative", "axis": null}}},
            {"data": {"values": [{}]}, "mark": {"type": "rule", "color": "black", "strokeWidth": 1},
             "encoding": {"x": {"datum": -0.46, "type": "quantitative", "axis": null}, "x2": {"datum": 0.46}, "y": {"datum": 240.3, "type": "quantitative", "axis": null}, "y2": {"datum": 290.2}}},
            {"data": {"values": [{}]}, "mark": {"type": "rule", "color": "black", "strokeWidth": 1},
             "encoding": {"x": {"datum": -0.46, "type": "quantitative", "axis": null}, "x2": {"datum": 0.46}, "y": {"datum": 254.5, "type": "quantitative", "axis": null}, "y2": {"datum": 330.4}}},
            {"data": {"values": [{}]}, "mark": {"type": "rule", "color": "black", "strokeWidth": 1},
             "encoding": {"x": {"datum": 9.54, "type": "quantitative", "axis": null}, "x2": {"datum": 10.46}, "y": {"datum": 240.3, "type": "quantitative", "axis": null}, "y2": {"datum": 290.2}}},
            {"data": {"values": [{}]}, "mark": {"type": "rule", "color": "black", "strokeWidth": 1},
             "encoding": {"x": {"datum": 9.54, "type": "quantitative", "axis": null}, "x2": {"datum": 10.46}, "y": {"datum": 254.5, "type": "quantitative", "axis": null}, "y2": {"datum": 330.4}}}
          ],
          "resolve": {"axis": {"x": "independent", "y": "independent"}}
        }
      ]
    }
  ]
}
